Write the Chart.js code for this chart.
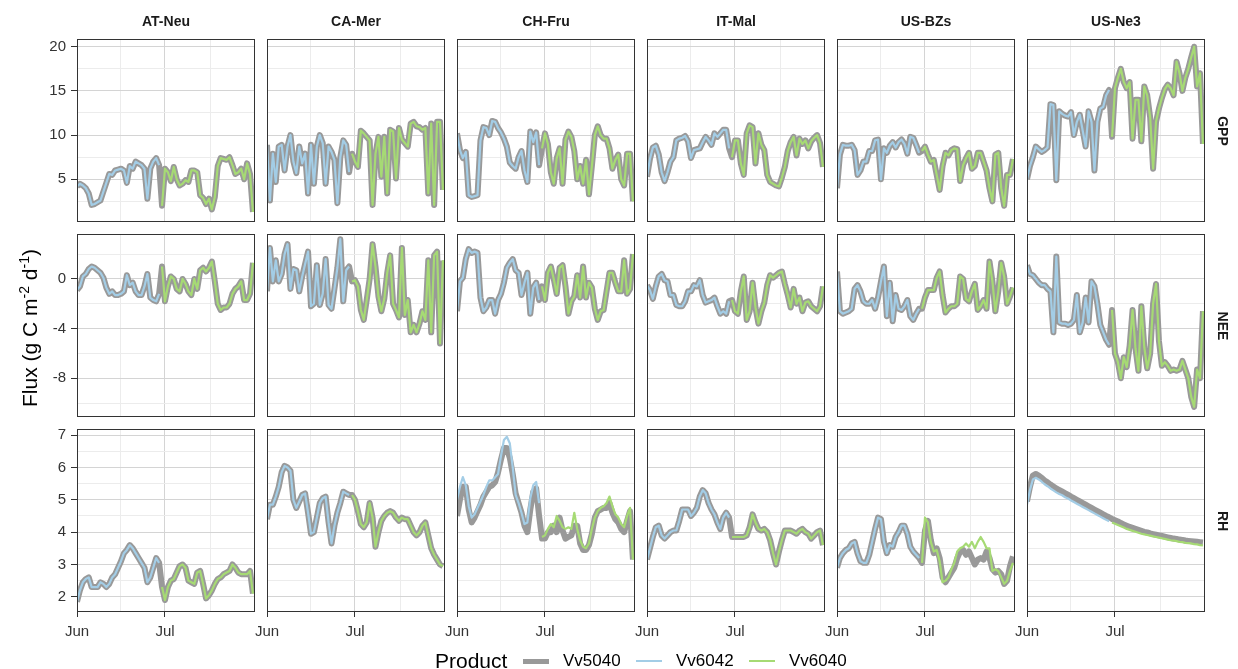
<!DOCTYPE html>
<html>
<head>
<meta charset="utf-8">
<script src="https://cdn.jsdelivr.net/npm/chart.js@4"></script>
<style>
  body { margin: 0; background: #fff; width: 1238px; height: 669px; position: relative; overflow: hidden;
         font-family: 'Liberation Sans', Arial, Helvetica, sans-serif; }
  canvas { position: absolute; }
  .strip { position: absolute; font-weight: bold; font-size: 14px; color: #1a1a1a; text-align: center; line-height: 18px; white-space: nowrap; }
  .ytitle { position: absolute; font-size: 21px; color: #000; white-space: nowrap; text-align: center; line-height: 26px; }
  .ytitle sup { font-size: 14px; }
  .leg { position: absolute; white-space: nowrap; color: #000; }
  .key { position: absolute; width: 26px; }
</style>
</head>
<body>
<script>
/**
 * data (one value per day, 1 Jun .. 31 Jul)
 */
const sites = ['AT-Neu', 'CA-Mer', 'CH-Fru', 'IT-Mal', 'US-BZs', 'US-Ne3'];
const variables = ['GPP', 'NEE', 'RH'];
const products = ['Vv5040', 'Vv6042', 'Vv6040'];
const days = Array.from({ length: 61 }, (_, i) => i); // 0 = Jun 1, 30 = Jul 1
const monthTicks = [0, 30];
const monthLabels = ['Jun', 'Jul'];
const minorDayTicks = [15, 45.5];
const lastJuneDay = 28; // Vv6042 runs to here, Vv6040 starts the day after

// Vv5040 (grey)
const gppATNeu = [4.2,4.5,4.3,4.0,3.4,2.1,2.2,2.4,2.6,3.6, 4.6,5.6,5.5,6.0,6.1,6.2,6.0,4.6,6.5,6.2, 7.0,6.8,6.6,6.2,2.8,6.2,7.0,7.4,6.6,2.0, 6.2,5.8,4.8,6.4,5.0,4.3,4.5,4.9,4.7,6.0, 6.0,5.8,3.2,2.9,2.2,2.8,1.6,3.0,6.5,7.4, 7.3,7.2,7.5,6.6,5.6,5.8,6.2,5.0,6.8,5.6, 1.3];
const gppCAMer = [8.9,2.6,7.9,4.7,8.7,8.9,6.0,8.7,10.0,7.0, 5.7,8.7,6.8,7.9,3.4,8.9,4.5,8.7,10.0,9.1, 4.5,8.7,8.1,7.2,2.3,7.5,9.4,8.9,5.8,7.9, 7.0,6.4,10.5,10.2,9.8,9.4,2.1,7.9,9.8,5.3, 9.8,3.4,10.6,10.4,5.1,10.8,9.5,9.1,8.7,11.3, 11.5,11.0,10.9,10.6,10.8,3.4,11.3,2.1,11.5,11.5, 3.8];
const gppCHFru = [10.2,8.3,7.4,8.1,3.2,3.0,3.1,3.2,9.4,10.9, 10.8,10.0,11.6,11.5,10.8,10.3,9.6,8.7,6.9,6.5, 6.2,7.5,8.2,6.0,4.7,10.4,9.2,10.3,6.6,8.5, 10.2,9.0,5.8,4.5,7.4,8.5,4.5,9.5,10.4,9.8, 8.2,5.0,6.5,4.5,7.2,3.3,6.5,10.0,11.0,10.0, 9.6,9.6,8.5,6.2,7.2,7.8,5.0,4.3,7.9,7.9, 2.5];
const gppITMal = [5.3,7.3,8.6,8.8,7.8,5.8,4.8,5.8,7.0,7.5, 9.4,9.6,9.7,9.9,9.3,7.4,8.3,8.4,8.5,9.2, 9.8,9.4,8.9,10.2,9.8,10.2,10.6,10.6,8.5,7.5, 9.4,9.4,6.8,5.5,10.2,11.1,10.9,6.8,10.2,8.9, 8.3,5.5,4.7,4.5,4.3,4.2,5.2,6.4,8.2,9.2, 9.8,7.7,9.6,9.0,9.4,8.5,9.3,9.7,10.0,9.1, 6.4];
const gppUSBZs = [4.0,7.8,8.9,8.8,8.8,8.9,8.3,5.5,6.0,7.0, 7.0,8.2,8.2,9.4,9.5,5.0,8.5,8.0,8.8,9.2, 8.6,9.2,9.5,9.0,7.9,9.8,9.7,8.9,8.0,8.2, 8.7,7.8,7.0,7.2,5.5,3.8,6.5,8.0,7.7,8.3, 8.5,8.4,4.8,6.6,7.4,8.0,6.2,6.5,8.0,8.0, 7.0,6.0,4.0,2.5,7.8,8.0,4.0,2.0,5.5,5.5, 7.3];
const gppUSNe3 = [5.0,6.5,7.5,8.7,8.4,8.1,8.3,8.6,13.5,13.4, 4.9,12.7,12.4,12.2,12.1,12.6,10.0,11.5,12.3,10.5, 8.7,12.7,11.5,6.0,11.5,13.0,13.2,14.5,15.1,9.8, 15.3,16.5,17.5,16.0,15.3,16.0,9.6,14.0,14.0,9.3, 15.5,14.5,12.0,6.2,11.5,13.0,14.2,15.2,15.7,15.3, 14.5,18.3,17.0,15.0,16.5,17.5,18.8,20.0,15.5,17.0, 9.0];

const neeATNeu = [-0.9,-0.6,0.2,0.4,0.8,1.0,0.9,0.7,0.5,0.1, -0.7,-1.2,-1.0,-1.3,-1.3,-1.2,-1.0,0.3,-0.5,-0.3, -1.0,-1.3,-1.3,-0.6,0.4,-1.5,-1.7,-1.8,-1.2,1.0, -1.8,-0.6,0.2,0.0,-0.8,-1.0,0.0,-0.4,-1.0,-1.3, 0.0,-0.8,0.7,0.9,0.6,0.9,1.4,-0.2,-2.0,-2.5, -2.3,-2.3,-2.0,-1.2,-0.8,-0.6,-0.2,-1.7,-1.7,-1.2, 1.3];
const neeCAMer = [-1.0,2.5,-0.2,1.5,-0.2,0.4,2.0,2.8,-0.8,0.8, 0.7,-1.0,0.2,1.2,2.2,-2.2,-2.0,1.1,-2.1,-1.2, 1.6,-2.1,-2.4,-0.8,0.9,3.2,-1.8,0.7,1.0,-0.2, -0.1,-0.6,-2.5,-3.3,-1.7,0.0,2.8,1.0,-1.4,-2.6, -1.6,0.5,1.9,-2.0,-2.5,-3.1,2.5,-2.9,-1.7,-4.3, -3.7,-4.3,-3.6,-2.6,-3.3,1.5,-4.3,1.9,2.2,-5.2, 1.5];
const neeCHFru = [-2.6,-0.2,0.1,1.6,2.4,2.1,2.2,2.1,-1.5,-2.6, -2.3,-1.7,-1.7,-2.8,-1.7,-1.2,-0.3,0.9,1.3,1.6, 0.7,0.5,-1.3,-0.3,0.5,-2.8,-0.7,-0.3,-1.7,-0.6, -1.7,0.5,1.0,0.0,-1.2,0.9,1.1,-0.6,-2.8,-1.8, -1.4,0.3,-1.5,1.0,-1.5,-0.3,-0.7,-2.4,-3.3,-2.6, -2.5,-1.0,0.5,0.5,-0.3,-1.0,-1.0,1.5,-1.2,-0.8, 2.0];
const neeITMal = [-0.5,-0.9,-1.6,-0.6,0.2,0.4,-0.1,-0.2,-1.3,-1.3, -2.1,-2.2,-2.2,-1.8,-1.0,-1.0,-0.5,-0.6,-0.1,-1.3, -1.9,-1.8,-1.7,-1.5,-2.2,-2.8,-2.6,-2.8,-1.8,-1.7, -2.6,-2.8,-1.0,0.2,-3.3,-2.6,-0.3,-2.3,-3.6,-2.6, -1.9,-0.5,0.3,0.1,0.3,0.5,0.6,-0.4,-1.3,-2.3, -0.8,-2.0,-1.5,-2.6,-1.9,-1.8,-2.2,-2.4,-2.6,-2.2, -0.6];
const neeUSBZs = [0.6,-2.6,-2.8,-2.7,-2.6,-2.4,-0.8,-0.5,-1.0,-1.8, -2.0,-2.0,-1.7,-2.4,-1.5,-0.2,1.0,-3.0,-0.3,-3.4, -1.3,-2.4,-2.5,-2.2,-1.7,-3.0,-3.3,-2.8,-2.4,-2.4, -1.5,-0.9,-0.9,-0.9,0.1,0.6,-1.3,-2.7,-2.4,-2.2, -2.2,-2.0,0.2,0.0,-1.6,-1.8,-1.0,-0.4,-2.5,-2.2, -1.7,-2.4,1.4,-0.2,-2.6,-1.0,1.3,0.2,-2.0,-1.4, -0.7];
const neeUSNe3 = [1.1,0.4,0.3,0.0,-0.3,-0.5,-0.5,-0.8,-1.0,-4.3, 1.8,-3.5,-3.6,-3.6,-3.7,-3.6,-3.3,-1.3,-4.3,-3.5, -1.5,-3.5,-0.2,-0.6,-2.0,-3.7,-4.3,-4.9,-5.3,-2.5, -6.0,-6.7,-8.0,-6.3,-7.1,-5.4,-2.5,-5.6,-7.4,-2.2, -5.5,-7.2,-6.0,-2.0,-0.4,-5.0,-7.0,-6.7,-7.0,-7.4, -7.3,-7.4,-7.3,-6.6,-7.3,-8.0,-9.5,-10.3,-7.3,-8.0, -2.6];

const rhATNeu = [1.85,2.2,2.45,2.55,2.6,2.3,2.3,2.3,2.45,2.4, 2.3,2.4,2.6,2.7,2.9,3.1,3.35,3.45,3.6,3.5, 3.35,3.2,3.05,2.9,2.45,2.6,2.9,3.2,3.05,2.3, 1.9,2.3,2.5,2.55,2.75,2.95,3.0,2.9,2.5,2.45, 2.4,2.75,2.8,2.4,1.95,2.05,2.2,2.4,2.55,2.6, 2.7,2.75,2.8,3.0,2.9,2.75,2.7,2.7,2.7,2.8, 2.1];
const rhCAMer = [4.4,4.85,4.85,5.1,5.4,5.85,6.05,6.0,5.9,5.0, 4.75,4.95,5.15,5.2,4.6,3.95,4.0,4.45,4.9,5.05, 5.1,4.3,3.65,4.2,4.6,4.9,5.25,5.2,5.15,5.15, 5.0,4.65,4.25,4.15,4.3,4.9,4.45,3.55,4.0,4.35, 4.5,4.6,4.65,4.6,4.45,4.35,4.45,4.4,4.4,4.2, 4.0,3.9,4.0,4.2,4.3,3.9,3.5,3.3,3.15,3.0, 2.95];
const rhCHFru = [4.5,5.0,5.4,5.4,4.7,4.3,4.45,4.65,4.85,5.1, 5.25,5.4,5.45,5.55,5.85,6.25,6.6,6.6,6.3,5.8, 5.2,4.9,4.6,4.2,4.0,4.7,5.25,5.35,4.5,3.8, 3.8,4.0,4.0,4.2,4.0,4.45,4.05,3.8,3.85,3.9, 4.2,4.2,3.65,3.45,3.45,3.6,3.95,4.45,4.65,4.7, 4.75,4.75,4.9,4.6,4.4,4.3,4.1,4.0,4.35,4.65, 3.15];
const rhITMal = [3.15,3.5,3.85,4.15,4.2,3.9,3.8,3.9,4.0,4.05, 4.05,4.35,4.7,4.7,4.7,4.5,4.6,4.75,5.1,5.3, 5.2,4.9,4.7,4.55,4.3,4.1,4.45,4.6,4.45,3.85, 3.85,3.85,3.85,3.85,3.9,4.15,4.55,4.3,4.1,4.05, 4.1,4.0,3.75,3.35,3.0,3.4,3.75,4.05,4.05,4.05, 4.0,3.95,4.05,4.1,4.0,3.95,3.8,3.9,4.0,4.05, 3.6];
const rhUSBZs = [2.9,3.2,3.35,3.45,3.5,3.65,3.7,3.35,3.1,3.05, 3.05,3.3,3.7,4.1,4.45,4.4,3.7,3.35,3.6,3.55, 3.85,4.0,4.2,4.2,3.95,3.55,3.4,3.3,3.2,3.05, 4.05,4.35,3.75,3.35,3.5,3.2,2.6,2.45,2.6,2.75, 2.9,3.2,3.4,3.45,3.3,3.4,3.2,3.0,3.15,3.2, 3.15,3.4,3.2,2.85,2.75,2.8,2.7,2.4,2.5,2.95, 3.25];
const rhUSNe3 = [4.95,5.4,5.75,5.8,5.75,5.68,5.6,5.54,5.47,5.41, 5.35,5.3,5.26,5.2,5.16,5.1,5.05,5.0,4.95,4.9, 4.85,4.8,4.75,4.7,4.65,4.6,4.55,4.5,4.46,4.41, 4.37,4.33,4.28,4.24,4.2,4.16,4.13,4.1,4.07,4.04, 4.01,3.99,3.96,3.94,3.92,3.9,3.88,3.86,3.84,3.82, 3.8,3.79,3.77,3.76,3.74,3.73,3.72,3.71,3.7,3.69, 3.68];

// Vv6042 / Vv6040 where they visibly part from the grey line
const rhCHFruV6042 = [5.0,5.4,5.7,5.45,4.8,4.45,4.55,4.75,4.95,5.15, 5.4,5.6,5.6,5.7,5.8,6.35,6.85,6.95,6.75,6.0, 5.15,4.9,4.6,4.25,4.3,5.05,5.45,5.55,4.9];
const rhCHFruV6040 = [3.85,3.9,4.1,4.25,4.15,4.5,4.35,4.15,4.1,4.15, 4.1,4.6,4.1,3.75,3.55,3.5,3.65,4.1,4.45,4.65, 4.75,4.8,4.9,5.1,4.8,4.55,4.45,4.25,4.15,4.5, 4.75,3.15];
const rhUSBZsV6040 = [3.05,4.45,4.3,3.7,3.4,3.45,3.1,2.45,2.5,2.6, 2.85,3.05,3.4,3.5,3.55,3.65,3.55,3.7,3.5,3.7, 3.85,3.7,3.5,3.5,2.8,2.85,2.8,2.6,2.4,2.5, 2.8,3.05];
const rhUSNe3V6042 = [4.85,5.3,5.63,5.68,5.63,5.56,5.48,5.42,5.35,5.29, 5.23,5.18,5.14,5.08,5.04,4.98,4.93,4.88,4.83,4.78, 4.73,4.68,4.63,4.58,4.53,4.48,4.43,4.38,4.34];
const rhUSNe3V6040 = [4.3,4.26,4.22,4.18,4.14,4.1,4.07,4.04,4.01,3.98, 3.95,3.93,3.91,3.89,3.87,3.85,3.83,3.81,3.79,3.77, 3.75,3.74,3.72,3.7,3.69,3.67,3.66,3.65,3.63,3.62, 3.6,3.59];

const yMajor = { GPP: [5, 10, 15, 20], NEE: [-8, -4, 0], RH: [2, 3, 4, 5, 6, 7] };
const yMinor = { GPP: [2.5, 7.5, 12.5, 17.5], NEE: [-10, -6, -2, 2], RH: [2.5, 3.5, 4.5, 5.5, 6.5] };

/**
 * tables built from the arrays above
 */
const vv5040 = {
  GPP: [gppATNeu, gppCAMer, gppCHFru, gppITMal, gppUSBZs, gppUSNe3],
  NEE: [neeATNeu, neeCAMer, neeCHFru, neeITMal, neeUSBZs, neeUSNe3],
  RH:  [rhATNeu, rhCAMer, rhCHFru, rhITMal, rhUSBZs, rhUSNe3],
};
const vv6042Own = { 'RH|CH-Fru': rhCHFruV6042, 'RH|US-Ne3': rhUSNe3V6042 };
const vv6040Own = { 'RH|CH-Fru': rhCHFruV6040, 'RH|US-BZs': rhUSBZsV6040, 'RH|US-Ne3': rhUSNe3V6040 };

/**
 * look
 */
const COL = { Vv5040: '#999999', Vv6042: '#a3cde6', Vv6040: '#a6da74' };
const GRID_MAJOR = '#d4d4d4';
const GRID_MINOR = '#ececec';
const INK = '#333333';
const yRange = { GPP: [0.17, 20.87], NEE: [-11.12, 3.62], RH: [1.53, 7.19] };
const PANEL_W = 178, PANEL_H = 183;

Chart.defaults.font.family = "'Liberation Sans', Arial, Helvetica, sans-serif";

const panelBox = {
  id: 'panelBox',
  afterDraw(chart) {
    const a = chart.chartArea, ctx = chart.ctx;
    ctx.save();
    ctx.strokeStyle = INK;
    ctx.lineWidth = 1;
    ctx.strokeRect(Math.round(a.left) + 0.5, Math.round(a.top) + 0.5, Math.round(a.right - a.left) - 1, Math.round(a.bottom - a.top) - 1);
    ctx.restore();
  }
};

function pts(vals, start) {
  return vals.map((v, i) => ({ x: days[start + i], y: v }));
}

function makePanel(v, site, r, c) {
  const key = v + '|' + site;
  const grey = vv5040[v][c];
  const blue = vv6042Own[key] || grey.slice(0, lastJuneDay + 1);
  const green = vv6040Own[key] || grey.slice(lastJuneDay + 1);

  const isLeft = c === 0, isBottom = r === 2;
  const yAxisW = isLeft ? 40 : 0;
  const xAxisH = isBottom ? 32 : 0;
  // generous padding so tick-label overflow never squeezes the panel
  const padL = isLeft ? 0 : 20, padR = 20, padT = 20, padB = isBottom ? 0 : 20;
  const left = 77 + 190 * c, top = 39 + 195 * r;

  const cv = document.createElement('canvas');
  cv.width = padL + yAxisW + PANEL_W + padR;
  cv.height = padT + PANEL_H + xAxisH + padB;
  cv.style.left = (left - padL - yAxisW) + 'px';
  cv.style.top = (top - padT) + 'px';
  document.body.appendChild(cv);

  const isMajY = t => yMajor[v].includes(t);
  const isMajX = t => monthTicks.includes(t);

  new Chart(cv, {
    type: 'line',
    data: {
      datasets: [
        { label: products[2], data: pts(green, lastJuneDay + 1), borderColor: COL.Vv6040, borderWidth: 2.2, order: 1, clip: 0 },
        { label: products[1], data: pts(blue, 0), borderColor: COL.Vv6042, borderWidth: 2.2, order: 2, clip: 0 },
        { label: products[0], data: pts(grey, 0), borderColor: COL.Vv5040, borderWidth: 6, order: 3, clip: 0 },
      ]
    },
    options: {
      responsive: false,
      animation: false,
      devicePixelRatio: 1,
      events: [],
      layout: { padding: { left: padL, right: padR, top: padT, bottom: padB } },
      plugins: { legend: { display: false }, tooltip: { enabled: false } },
      elements: {
        point: { radius: 0 },
        line: { tension: 0, fill: false, borderJoinStyle: 'round', borderCapStyle: 'butt' }
      },
      scales: {
        x: {
          type: 'linear', min: 0, max: 60.7,
          afterBuildTicks: s => { s.ticks = [...monthTicks, ...minorDayTicks].sort((a, b) => a - b).map(t => ({ value: t })); },
          afterFit: s => { s.height = xAxisH; },
          border: { display: false },
          grid: {
            color: g => (g.tick && isMajX(g.tick.value)) ? GRID_MAJOR : GRID_MINOR,
            lineWidth: 1,
            drawTicks: isBottom, tickLength: 5,
            tickColor: g => (g.tick && isMajX(g.tick.value)) ? INK : 'rgba(0,0,0,0)'
          },
          ticks: {
            display: isBottom, autoSkip: false, maxRotation: 0, padding: 6, color: INK,
            font: { size: 15 },
            callback: t => { const k = monthTicks.indexOf(t); return k >= 0 ? monthLabels[k] : ''; }
          }
        },
        y: {
          type: 'linear', min: yRange[v][0], max: yRange[v][1],
          afterBuildTicks: s => { s.ticks = [...yMinor[v], ...yMajor[v]].sort((a, b) => a - b).map(t => ({ value: t })); },
          afterFit: s => { s.width = yAxisW; },
          border: { display: false },
          grid: {
            color: g => (g.tick && isMajY(g.tick.value)) ? GRID_MAJOR : GRID_MINOR,
            lineWidth: 1,
            drawTicks: isLeft, tickLength: 6,
            tickColor: g => (g.tick && isMajY(g.tick.value)) ? INK : 'rgba(0,0,0,0)'
          },
          ticks: {
            display: isLeft, autoSkip: false, padding: 5, color: INK,
            font: { size: 15 },
            callback: t => isMajY(t) ? String(t) : ''
          }
        }
      }
    },
    plugins: [panelBox]
  });
}

function addDiv(cls, html, style) {
  const d = document.createElement('div');
  d.className = cls;
  d.innerHTML = html;
  Object.assign(d.style, style);
  document.body.appendChild(d);
  return d;
}

variables.forEach((v, r) => sites.forEach((s, c) => makePanel(v, s, r, c)));

// facet strips
sites.forEach((s, c) => addDiv('strip', s, { left: (77 + 190 * c) + 'px', top: '12px', width: PANEL_W + 'px' }));
variables.forEach((v, r) => addDiv('strip', v, {
  left: (1222 - PANEL_H / 2) + 'px', top: (39 + 195 * r + PANEL_H / 2 - 9) + 'px',
  width: PANEL_H + 'px', transform: 'rotate(90deg)'
}));

// y title
addDiv('ytitle', 'Flux (g C m<sup>-2</sup> d<sup>-1</sup>)', {
  left: (27 - 150) + 'px', top: (325 - 13) + 'px', width: '300px', transform: 'rotate(-90deg)'
});

// legend
addDiv('leg', 'Product', { left: '435px', top: '648px', fontSize: '21px', lineHeight: '26px' });
const legKeys = [
  { name: products[0], x: 523, h: 5 },
  { name: products[1], x: 636, h: 2 },
  { name: products[2], x: 749, h: 2 },
];
legKeys.forEach(k => {
  addDiv('key', '', { left: k.x + 'px', top: (661 - k.h / 2) + 'px', height: k.h + 'px', background: COL[k.name] });
  addDiv('leg', k.name, { left: (k.x + 40) + 'px', top: '651px', fontSize: '17px', lineHeight: '20px' });
});
</script>
</body>
</html>
